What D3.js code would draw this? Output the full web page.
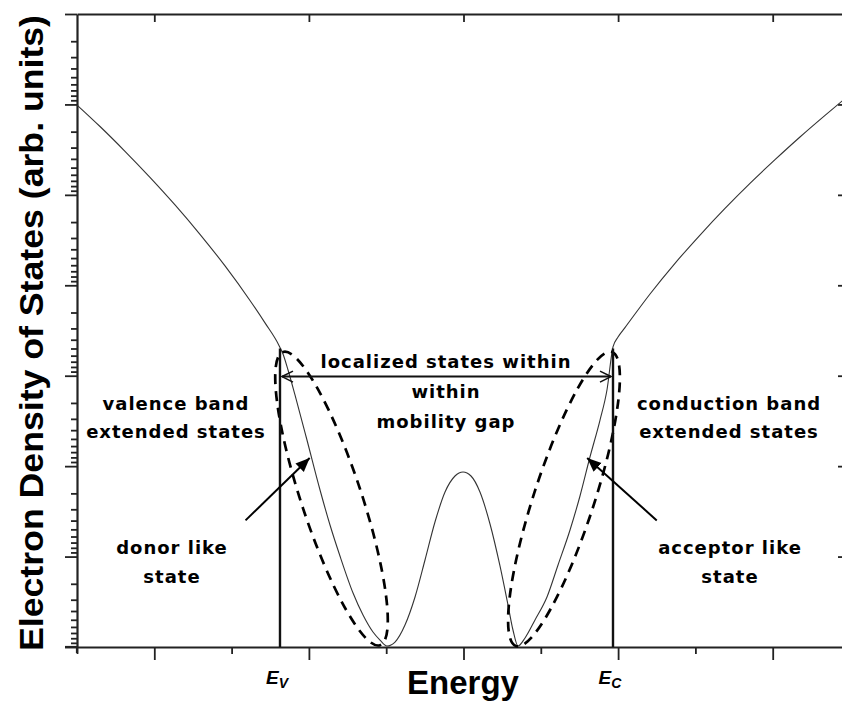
<!DOCTYPE html>
<html>
<head>
<meta charset="utf-8">
<script src="https://cdn.jsdelivr.net/npm/d3@7"></script>
<style>
body{margin:0;background:#fff}
svg{display:block}
.note{font-family:"DejaVu Sans",sans-serif;font-weight:bold;font-size:18px;letter-spacing:1px;fill:#000}
</style>
</head>
<body>
<div id="chart"></div>
<script>
// energy axis (arb. units), long ticks on the odd ones
var energyTicks = [0,1,2,3,4,5,6,7,8,9,10];
var energyMajor = [1,3,5,7,9];
// DOS axis decades (log axis, no labels)
var dosDecades = [1,1e1,1e2,1e3,1e4,1e5,1e6,1e7];

// mobility edges
var edgeNames = ['V','C'];
var edgeEnergy = [2.626, 6.934];
var edgeTop = 3.30;

// solid DOS curve, [E, D]
var valenceBand = [[0,5.994],[0.298,5.756],[0.621,5.482],[0.944,5.194],[1.268,4.889],[1.591,4.564],
  [1.915,4.214],[2.238,3.832],[2.432,3.584],[2.613,3.335]];
var gapStates = [[2.665,3.240],[2.730,3.063],[2.820,2.787],[2.975,2.289],[3.144,1.736],[3.273,1.349],
  [3.402,1.006],[3.571,0.597],[3.700,0.354],[3.829,0.166],[3.920,0.077],[4.010,0.011],
  [4.114,0.055],[4.243,0.243],[4.373,0.553],[4.502,0.962],[4.631,1.382],[4.761,1.714],[4.890,1.891],
  [4.994,1.935],[5.097,1.891],[5.213,1.714],[5.343,1.360],[5.472,0.896],[5.576,0.464],[5.640,0.188],
  [5.705,0.011],[5.796,0.100],[5.925,0.299],[6.080,0.553],[6.223,0.907],[6.378,1.294],[6.507,1.670],
  [6.636,2.101],[6.766,2.510],[6.856,2.842],[6.934,3.318],[6.999,3.428]];
var conductionBand = [[7.089,3.532],[7.413,3.904],[7.736,4.243],[8.060,4.556],[8.383,4.850],
  [8.706,5.127],[9.030,5.389],[9.353,5.640],[9.677,5.879],[9.897,6.037],[10,6.110]];

// dashed tail-state loops: upper end, lower end, half width (energy)
var tailTop = [[2.665,3.262],[6.921,3.262]];
var tailBottom = [[3.920,0.020],[5.679,0.011]];
var tailHalfWidth = [0.41,0.41];

var gapLabel = ['localized states within','within','mobility gap'];
var valenceLabel = ['valence band','extended states'];
var conductionLabel = ['conduction band','extended states'];
var donorLabel = ['donor like','state'];
var acceptorLabel = ['acceptor like','state'];

var width = 842, height = 703;
var svg = d3.select('#chart').append('svg').attr('width',width).attr('height',height);

var x = d3.scaleLinear().domain([0,10]).range([77,850]);
var y = d3.scaleLinear().domain([0,7]).range([647,14]);
var yLog = d3.scaleLog().domain([1,1e7]).range([14,647]);

var defs = svg.append('defs');
defs.append('marker').attr('id','open').attr('viewBox','-12 -7 14 14')
  .attr('refX',0).attr('refY',0).attr('markerWidth',14).attr('markerHeight',14)
  .attr('markerUnits','userSpaceOnUse').attr('orient','auto-start-reverse')
  .append('path').attr('d','M-11,-5.5L0,0L-11,5.5').attr('fill','none').attr('stroke','#111').attr('stroke-width',1.6);
defs.append('marker').attr('id','solid').attr('viewBox','-14 -7 15 14')
  .attr('refX',0).attr('refY',0).attr('markerWidth',15).attr('markerHeight',14)
  .attr('markerUnits','userSpaceOnUse').attr('orient','auto')
  .append('path').attr('d','M-14,-6L0,0L-14,6Z').attr('fill','#000');

// log minor ticks for the left axis
var logTicks = [];
dosDecades.forEach(function(d,i){
  logTicks.push(d);
  if (i < dosDecades.length-1) for (var k=2;k<10;k++) logTicks.push(d*k);
});

var axisColor = '#222';
var leftAxis = svg.append('g').attr('transform','translate(77,0)')
  .call(d3.axisLeft(yLog).tickValues(logTicks).tickFormat('').tickSizeOuter(0));
leftAxis.selectAll('.tick line').attr('x2',function(d){ return dosDecades.indexOf(d)>=0 ? -12 : -6 });

var bottomAxis = svg.append('g').attr('transform','translate(0,647)')
  .call(d3.axisBottom(x).tickValues(energyTicks).tickFormat('').tickSizeOuter(0));
bottomAxis.selectAll('.tick line').attr('y2',function(d){ return energyMajor.indexOf(d)>=0 ? 13 : 7 });

var topAxis = svg.append('g').attr('transform','translate(0,14)')
  .call(d3.axisBottom(x).tickValues(energyMajor).tickFormat('').tickSize(8).tickSizeOuter(0));

var rightAxis = svg.append('g').attr('transform','translate(850,0)')
  .call(d3.axisLeft(yLog).tickValues(dosDecades.slice(1,-1)).tickFormat('').tickSize(12).tickSizeOuter(0));

[leftAxis,bottomAxis,topAxis,rightAxis].forEach(function(g){
  g.selectAll('path.domain').attr('stroke',axisColor).attr('stroke-width',2.2);
  g.selectAll('.tick line').attr('stroke',axisColor).attr('stroke-width',1.8);
});
// axis lines run past the corner a bit
svg.append('line').attr('x1',65).attr('x2',77).attr('y1',647).attr('y2',647).attr('stroke',axisColor).attr('stroke-width',2.2);
svg.append('line').attr('x1',77).attr('x2',77).attr('y1',647).attr('y2',653).attr('stroke',axisColor).attr('stroke-width',2.2);

// DOS curve
var line = d3.line().x(function(d){return x(d[0])}).y(function(d){return y(d[1])}).curve(d3.curveMonotoneX);
var dos = valenceBand.concat(gapStates, conductionBand);
svg.append('path').datum(dos).attr('d',line)
  .attr('fill','none').attr('stroke','#333').attr('stroke-width',1.1);

// dashed tails
tailTop.forEach(function(t,i){
  var b = tailBottom[i];
  var x1 = x(t[0]), y1 = y(t[1]), x2 = x(b[0]), y2 = y(b[1]);
  var cx = (x1+x2)/2, cy = (y1+y2)/2;
  var len = Math.hypot(x2-x1, y2-y1)/2;
  var ang = Math.atan2(y2-y1, x2-x1)*180/Math.PI;
  var hw = (x(tailHalfWidth[i]) - x(0)) * Math.abs(Math.sin(ang*Math.PI/180));
  svg.append('ellipse').attr('cx',cx).attr('cy',cy).attr('rx',len).attr('ry',hw)
    .attr('transform','rotate('+ang+','+cx+','+cy+')')
    .attr('fill','none').attr('stroke','#000').attr('stroke-width',2.7)
    .attr('stroke-dasharray','10,7');
});

// mobility edges
edgeEnergy.forEach(function(e){
  svg.append('line').attr('x1',x(e)).attr('x2',x(e)).attr('y1',y(0)).attr('y2',y(edgeTop))
    .attr('stroke','#111').attr('stroke-width',2.4);
});
svg.append('line')
  .attr('x1',x(edgeEnergy[0])+2).attr('x2',x(edgeEnergy[1])-2)
  .attr('y1',y(2.99)).attr('y2',y(2.99))
  .attr('stroke','#111').attr('stroke-width',2)
  .attr('marker-start','url(#open)').attr('marker-end','url(#open)');

// arrows to the tails
svg.append('line').attr('x1',x(2.18)).attr('y1',y(1.40)).attr('x2',x(3.01)).attr('y2',y(2.09))
  .attr('stroke','#000').attr('stroke-width',2).attr('marker-end','url(#solid)');
svg.append('line').attr('x1',x(7.50)).attr('y1',y(1.40)).attr('x2',x(6.60)).attr('y2',y(2.09))
  .attr('stroke','#000').attr('stroke-width',2).attr('marker-end','url(#solid)');

function block(lines, cx, y0, dy){
  svg.append('text').attr('class','note').attr('text-anchor','middle')
    .selectAll('tspan').data(lines).enter().append('tspan')
    .attr('x',cx).attr('y',function(d,i){return y0 + i*dy}).text(function(d){return d});
}
block(gapLabel, 446, 368, 30);
block(valenceLabel, 176, 410, 28);
block(conductionLabel, 729, 410, 28);
block(donorLabel, 172, 554, 29);
block(acceptorLabel, 730, 554, 29);

// edge labels
edgeNames.forEach(function(n,i){
  var t = svg.append('text').attr('x',x(edgeEnergy[i])-3).attr('y',684)
    .attr('text-anchor','middle')
    .style('font-family','"Liberation Sans",Arial,sans-serif').style('font-weight','bold')
    .style('font-style','italic').style('font-size','19px');
  t.append('tspan').text('E');
  t.append('tspan').attr('dy',4).style('font-size','14px').text(n);
});

svg.append('text').attr('x',463).attr('y',694).attr('text-anchor','middle')
  .style('font-family','"Liberation Sans",Arial,sans-serif').style('font-weight','bold').style('font-size','33px')
  .text('Energy');

svg.append('text').attr('transform','translate(43,333) rotate(-90)').attr('text-anchor','middle')
  .attr('textLength',636).attr('lengthAdjust','spacingAndGlyphs')
  .style('font-family','"Liberation Sans",Arial,sans-serif').style('font-weight','bold').style('font-size','34px')
  .text('Electron Density of States (arb. units)');
</script>
</body>
</html>
